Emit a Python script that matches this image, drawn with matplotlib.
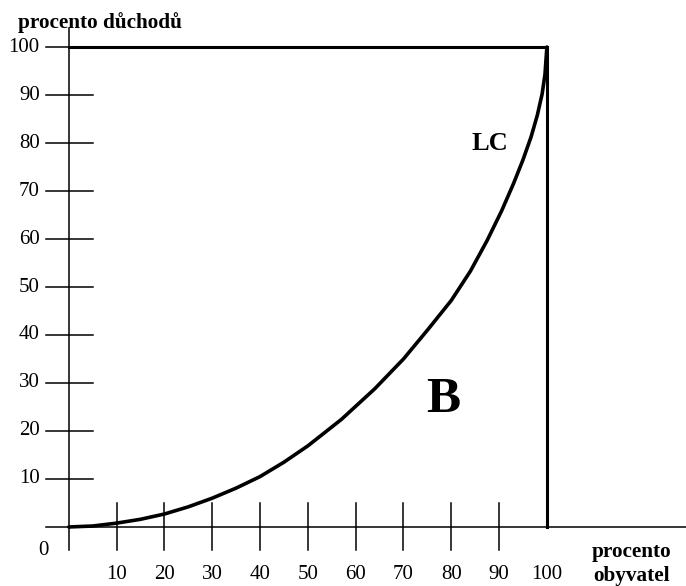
import matplotlib
matplotlib.use("Agg")
import matplotlib.pyplot as plt

# Lorenz curve
obyvatel = [0, 5, 10, 15, 20, 25, 30, 35, 40, 45, 50, 57, 64, 70, 75, 80, 84, 87.5,
            90.5, 93, 95, 96.7, 98, 99, 99.6, 100]
duchody = [0, 0.2, 0.8, 1.6, 2.7, 4.2, 6.0, 8.1, 10.5, 13.5, 16.9, 22.4, 28.8, 35.0,
           41.0, 47.2, 53.3, 59.7, 65.8, 71.5, 76.5, 81.3, 85.8, 90.2, 94.3, 100]

x_ticks = [10, 20, 30, 40, 50, 60, 70, 80, 90]
x_labels = ["10", "20", "30", "40", "50", "60", "70", "80", "90", "100"]
y_ticks = [10, 20, 30, 40, 50, 60, 70, 80, 90, 100]

plt.rcParams['font.family'] = ['Liberation Serif', 'DejaVu Serif']

fig = plt.figure(figsize=(6.86, 5.86), dpi=100)
ax = fig.add_axes([0, 0, 1, 1])
ax.set_xlim(-14.4, 129.1)
ax.set_ylim(-12.3, 109.8)
ax.axis('off')

# axes crossing at origin
ax.plot([-4.8, 129.1], [0, 0], color='k', lw=1.1)
ax.plot([0, 0], [-4.8, 104], color='k', lw=1.1)

# ticks
for t in y_ticks:
    ax.plot([-4.8, 5.0], [t, t], color='k', lw=1.1)
    ax.text(-6.1, t, str(t), ha='right', va='center', fontsize=15)
for t in x_ticks:
    ax.plot([t, t], [-4.8, 5.0], color='k', lw=1.1)
for i, lab in enumerate(x_labels):
    ax.text((i + 1) * 10, -10, lab, ha='center', va='center', fontsize=15)
ax.text(-5.4, -4.8, "0", ha='center', va='center', fontsize=15)

# box of equality
ax.plot([0, 100, 100], [100, 100, 0], color='k', lw=2.2, solid_joinstyle='miter')

# Lorenz curve
ax.plot(obyvatel, duchody, color='k', lw=2.6, solid_joinstyle='round', solid_capstyle='round')

ax.text(6.5, 105.2, "procento důchodů", ha='center', va='center', fontsize=15.3, fontweight='bold')
ax.text(117.8, -5.3, "procento", ha='center', va='center', fontsize=15.3, fontweight='bold')
ax.text(117.8, -10.3, "obyvatel", ha='center', va='center', fontsize=15.3, fontweight='bold')
ax.text(88.1, 79.8, "LC", ha='center', va='center', fontsize=19, fontweight='bold')
ax.text(78.3, 26.5, "B", ha='center', va='center', fontsize=37, fontweight='bold')

fig.savefig("out.png", dpi=100)
